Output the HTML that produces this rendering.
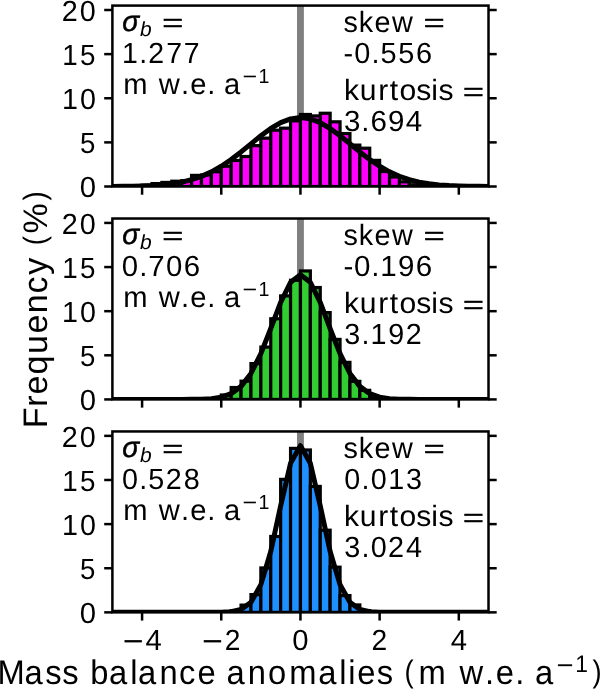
<!DOCTYPE html>
<html><head><meta charset="utf-8"><style>
html,body{margin:0;padding:0;background:#fff;}
body{width:600px;height:689px;overflow:hidden;}
svg{display:block;will-change:transform;}
text{font-family:"Liberation Sans",sans-serif;fill:#000;font-kerning:none;text-rendering:geometricPrecision;}
</style></head><body>
<svg width="600" height="689" viewBox="0 0 600 689">
<rect width="600" height="689" fill="#fff"/>

<clipPath id="c0"><rect x="112.40" y="5.59" width="376.11" height="180.91"/></clipPath>
<g clip-path="url(#c0)">
<line x1="300.45" y1="5.59" x2="300.45" y2="186.50" stroke="#808080" stroke-width="6.9"/>
<rect x="142.09" y="185.18" width="9.90" height="1.32" fill="#ff00ff" stroke="#000" stroke-width="3.2"/>
<rect x="151.99" y="183.59" width="9.90" height="2.91" fill="#ff00ff" stroke="#000" stroke-width="3.2"/>
<rect x="161.88" y="182.44" width="9.90" height="4.06" fill="#ff00ff" stroke="#000" stroke-width="3.2"/>
<rect x="171.78" y="181.21" width="9.90" height="5.29" fill="#ff00ff" stroke="#000" stroke-width="3.2"/>
<rect x="181.68" y="180.76" width="9.90" height="5.74" fill="#ff00ff" stroke="#000" stroke-width="3.2"/>
<rect x="191.58" y="175.38" width="9.90" height="11.12" fill="#ff00ff" stroke="#000" stroke-width="3.2"/>
<rect x="201.47" y="175.03" width="9.90" height="11.47" fill="#ff00ff" stroke="#000" stroke-width="3.2"/>
<rect x="211.37" y="171.76" width="9.90" height="14.74" fill="#ff00ff" stroke="#000" stroke-width="3.2"/>
<rect x="221.27" y="166.20" width="9.90" height="20.30" fill="#ff00ff" stroke="#000" stroke-width="3.2"/>
<rect x="231.17" y="160.47" width="9.90" height="26.03" fill="#ff00ff" stroke="#000" stroke-width="3.2"/>
<rect x="241.06" y="156.50" width="9.90" height="30.00" fill="#ff00ff" stroke="#000" stroke-width="3.2"/>
<rect x="250.96" y="145.64" width="9.90" height="40.86" fill="#ff00ff" stroke="#000" stroke-width="3.2"/>
<rect x="260.86" y="138.14" width="9.90" height="48.36" fill="#ff00ff" stroke="#000" stroke-width="3.2"/>
<rect x="270.76" y="130.20" width="9.90" height="56.30" fill="#ff00ff" stroke="#000" stroke-width="3.2"/>
<rect x="280.65" y="128.17" width="9.90" height="58.33" fill="#ff00ff" stroke="#000" stroke-width="3.2"/>
<rect x="290.55" y="120.84" width="9.90" height="65.66" fill="#ff00ff" stroke="#000" stroke-width="3.2"/>
<rect x="300.45" y="114.49" width="9.90" height="72.01" fill="#ff00ff" stroke="#000" stroke-width="3.2"/>
<rect x="310.35" y="115.90" width="9.90" height="70.60" fill="#ff00ff" stroke="#000" stroke-width="3.2"/>
<rect x="320.25" y="113.25" width="9.90" height="73.25" fill="#ff00ff" stroke="#000" stroke-width="3.2"/>
<rect x="330.14" y="121.81" width="9.90" height="64.69" fill="#ff00ff" stroke="#000" stroke-width="3.2"/>
<rect x="340.04" y="133.55" width="9.90" height="52.95" fill="#ff00ff" stroke="#000" stroke-width="3.2"/>
<rect x="349.94" y="145.11" width="9.90" height="41.39" fill="#ff00ff" stroke="#000" stroke-width="3.2"/>
<rect x="359.83" y="148.20" width="9.90" height="38.30" fill="#ff00ff" stroke="#000" stroke-width="3.2"/>
<rect x="369.73" y="160.38" width="9.90" height="26.12" fill="#ff00ff" stroke="#000" stroke-width="3.2"/>
<rect x="379.63" y="171.50" width="9.90" height="15.00" fill="#ff00ff" stroke="#000" stroke-width="3.2"/>
<rect x="389.53" y="176.97" width="9.90" height="9.53" fill="#ff00ff" stroke="#000" stroke-width="3.2"/>
<rect x="399.43" y="181.82" width="9.90" height="4.68" fill="#ff00ff" stroke="#000" stroke-width="3.2"/>
<rect x="409.32" y="184.74" width="9.90" height="1.76" fill="#ff00ff" stroke="#000" stroke-width="3.2"/>
<rect x="419.22" y="185.62" width="9.90" height="0.88" fill="#ff00ff" stroke="#000" stroke-width="3.2"/>
<polyline points="102.50,186.47 112.40,186.43 122.29,186.36 132.19,186.23 142.09,185.99 151.99,185.58 161.88,184.89 171.78,183.80 181.68,182.14 191.58,179.72 201.47,176.36 211.37,171.90 221.27,166.28 231.17,159.55 241.06,151.92 250.96,143.81 260.86,135.78 270.76,128.49 280.65,122.66 290.55,118.88 300.45,117.58 310.35,118.88 320.25,122.66 330.14,128.49 340.04,135.78 349.94,143.81 359.83,151.92 369.73,159.55 379.63,166.28 389.53,171.90 399.43,176.36 409.32,179.72 419.22,182.14 429.12,183.80 439.01,184.89 448.91,185.58 458.81,185.99 468.71,186.23 478.61,186.36 488.50,186.43 498.40,186.47" fill="none" stroke="#000" stroke-width="5.0" stroke-linejoin="round"/>
</g>
<rect x="112.40" y="5.59" width="376.11" height="180.91" fill="none" stroke="#000" stroke-width="2.5"/>
<line x1="104.20" y1="186.50" x2="112.40" y2="186.50" stroke="#000" stroke-width="2.5"/>
<line x1="488.50" y1="186.50" x2="496.70" y2="186.50" stroke="#000" stroke-width="2.5"/>
<text transform="translate(79.03 197.25) scale(1.0029 1)" x="0.69" y="0" font-size="29.20" xml:space="preserve">0</text>
<line x1="104.20" y1="142.38" x2="112.40" y2="142.38" stroke="#000" stroke-width="2.5"/>
<line x1="488.50" y1="142.38" x2="496.70" y2="142.38" stroke="#000" stroke-width="2.5"/>
<text transform="translate(79.03 153.12) scale(0.9465 1)" x="1.10" y="0" font-size="29.20" xml:space="preserve">5</text>
<line x1="104.20" y1="98.25" x2="112.40" y2="98.25" stroke="#000" stroke-width="2.5"/>
<line x1="488.50" y1="98.25" x2="496.70" y2="98.25" stroke="#000" stroke-width="2.5"/>
<text transform="translate(61.35 109.00) scale(0.9815 1)" x="0.73 18.88" y="0" font-size="29.20" xml:space="preserve">10</text>
<line x1="104.20" y1="54.12" x2="112.40" y2="54.12" stroke="#000" stroke-width="2.5"/>
<line x1="488.50" y1="54.12" x2="496.70" y2="54.12" stroke="#000" stroke-width="2.5"/>
<text transform="translate(61.35 64.88) scale(0.9519 1)" x="1.02 19.61" y="0" font-size="29.20" xml:space="preserve">15</text>
<line x1="104.20" y1="10.00" x2="112.40" y2="10.00" stroke="#000" stroke-width="2.5"/>
<line x1="488.50" y1="10.00" x2="496.70" y2="10.00" stroke="#000" stroke-width="2.5"/>
<text transform="translate(61.35 20.75) scale(0.9852 1)" x="0.47 18.78" y="0" font-size="29.20" xml:space="preserve">20</text>
<line x1="142.09" y1="186.50" x2="142.09" y2="194.70" stroke="#000" stroke-width="2.5"/>
<line x1="221.27" y1="186.50" x2="221.27" y2="194.70" stroke="#000" stroke-width="2.5"/>
<line x1="300.45" y1="186.50" x2="300.45" y2="194.70" stroke="#000" stroke-width="2.5"/>
<line x1="379.63" y1="186.50" x2="379.63" y2="194.70" stroke="#000" stroke-width="2.5"/>
<line x1="458.81" y1="186.50" x2="458.81" y2="194.70" stroke="#000" stroke-width="2.5"/>
<text transform="translate(122.27 30.97) scale(0.9629 0.9833)" font-size="29.20" font-style="italic" stroke="#000" stroke-width="0.5">σ</text>
<text transform="translate(139.70 35.80) scale(1.0250 1)" x="0.40" y="0" font-size="20.44" font-style="italic" xml:space="preserve">b</text>
<text transform="translate(162.35 30.71) scale(1.2258 0.8332)" font-size="29.20" stroke="#000" stroke-width="0.6">=</text>
<text transform="translate(121.15 62.90) scale(0.9747 1)" x="0.80 18.59 27.76 46.21 64.34" y="0" font-size="29.20" xml:space="preserve">1.277</text>
<text transform="translate(121.66 94.00) scale(0.9977 1)" x="1.57 27.32 37.15 59.56 68.65 85.73 94.26 102.60" y="0" font-size="29.20" xml:space="preserve">m w.e. a</text>
<text transform="translate(241.69 82.80) scale(0.9578 1)" x="17.68" y="0" font-size="20.44" xml:space="preserve">1</text>
<text transform="translate(242.51 84.23) scale(1.2258 1.1078)" font-size="20.44">−</text>
<text transform="translate(343.35 31.80) scale(0.9876 1)" x="0.22 15.73 31.53 49.20 71.26" y="0" font-size="29.20" xml:space="preserve">skew </text>
<text transform="translate(423.75 31.11) scale(1.2258 0.8332)" font-size="29.20" stroke="#000" stroke-width="0.6">=</text>
<text transform="translate(343.35 62.90) scale(0.9898 1)" x="0.20 10.93 28.38 37.60 55.46 73.43" y="0" font-size="29.20" xml:space="preserve">-0.556</text>
<text transform="translate(343.35 100.40) scale(1.0318 1)" x="0.67 15.95 33.82 44.87 54.41 70.66 85.29 92.17 106.29" y="0" font-size="29.20" xml:space="preserve">kurtosis </text>
<text transform="translate(463.04 99.71) scale(1.2258 0.8332)" font-size="29.20" stroke="#000" stroke-width="0.6">=</text>
<text transform="translate(343.35 131.00) scale(1.0105 1)" x="0.66 17.79 26.85 44.25 61.83" y="0" font-size="29.20" xml:space="preserve">3.694</text>
<clipPath id="c1"><rect x="112.40" y="218.52" width="376.11" height="180.91"/></clipPath>
<g clip-path="url(#c1)">
<line x1="300.45" y1="218.52" x2="300.45" y2="399.43" stroke="#808080" stroke-width="6.9"/>
<rect x="221.27" y="395.02" width="9.90" height="4.41" fill="#32cd32" stroke="#000" stroke-width="3.2"/>
<rect x="231.17" y="387.52" width="9.90" height="11.91" fill="#32cd32" stroke="#000" stroke-width="3.2"/>
<rect x="241.06" y="381.16" width="9.90" height="18.27" fill="#32cd32" stroke="#000" stroke-width="3.2"/>
<rect x="250.96" y="363.60" width="9.90" height="35.83" fill="#32cd32" stroke="#000" stroke-width="3.2"/>
<rect x="260.86" y="347.10" width="9.90" height="52.33" fill="#32cd32" stroke="#000" stroke-width="3.2"/>
<rect x="270.76" y="318.77" width="9.90" height="80.66" fill="#32cd32" stroke="#000" stroke-width="3.2"/>
<rect x="280.65" y="295.91" width="9.90" height="103.52" fill="#32cd32" stroke="#000" stroke-width="3.2"/>
<rect x="290.55" y="280.29" width="9.90" height="119.14" fill="#32cd32" stroke="#000" stroke-width="3.2"/>
<rect x="300.45" y="270.94" width="9.90" height="128.49" fill="#32cd32" stroke="#000" stroke-width="3.2"/>
<rect x="310.35" y="287.53" width="9.90" height="111.90" fill="#32cd32" stroke="#000" stroke-width="3.2"/>
<rect x="320.25" y="312.59" width="9.90" height="86.84" fill="#32cd32" stroke="#000" stroke-width="3.2"/>
<rect x="330.14" y="339.42" width="9.90" height="60.01" fill="#32cd32" stroke="#000" stroke-width="3.2"/>
<rect x="340.04" y="362.37" width="9.90" height="37.06" fill="#32cd32" stroke="#000" stroke-width="3.2"/>
<rect x="349.94" y="381.34" width="9.90" height="18.09" fill="#32cd32" stroke="#000" stroke-width="3.2"/>
<rect x="359.83" y="390.34" width="9.90" height="9.09" fill="#32cd32" stroke="#000" stroke-width="3.2"/>
<rect x="369.73" y="396.78" width="9.90" height="2.65" fill="#32cd32" stroke="#000" stroke-width="3.2"/>
<polyline points="102.50,399.43 112.40,399.43 122.29,399.43 132.19,399.43 142.09,399.43 151.99,399.43 161.88,399.43 171.78,399.43 181.68,399.42 191.58,399.37 201.47,399.19 211.37,398.65 221.27,397.18 231.17,393.65 241.06,386.38 250.96,373.43 260.86,353.71 270.76,328.52 280.65,302.41 290.55,282.34 300.45,274.76 310.35,282.34 320.25,302.41 330.14,328.52 340.04,353.71 349.94,373.43 359.83,386.38 369.73,393.65 379.63,397.18 389.53,398.65 399.43,399.19 409.32,399.37 419.22,399.42 429.12,399.43 439.01,399.43 448.91,399.43 458.81,399.43 468.71,399.43 478.61,399.43 488.50,399.43 498.40,399.43" fill="none" stroke="#000" stroke-width="5.0" stroke-linejoin="round"/>
</g>
<rect x="112.40" y="218.52" width="376.11" height="180.91" fill="none" stroke="#000" stroke-width="2.5"/>
<line x1="104.20" y1="399.43" x2="112.40" y2="399.43" stroke="#000" stroke-width="2.5"/>
<line x1="488.50" y1="399.43" x2="496.70" y2="399.43" stroke="#000" stroke-width="2.5"/>
<text transform="translate(79.03 410.18) scale(1.0029 1)" x="0.69" y="0" font-size="29.20" xml:space="preserve">0</text>
<line x1="104.20" y1="355.31" x2="112.40" y2="355.31" stroke="#000" stroke-width="2.5"/>
<line x1="488.50" y1="355.31" x2="496.70" y2="355.31" stroke="#000" stroke-width="2.5"/>
<text transform="translate(79.03 366.06) scale(0.9465 1)" x="1.10" y="0" font-size="29.20" xml:space="preserve">5</text>
<line x1="104.20" y1="311.18" x2="112.40" y2="311.18" stroke="#000" stroke-width="2.5"/>
<line x1="488.50" y1="311.18" x2="496.70" y2="311.18" stroke="#000" stroke-width="2.5"/>
<text transform="translate(61.35 321.93) scale(0.9815 1)" x="0.73 18.88" y="0" font-size="29.20" xml:space="preserve">10</text>
<line x1="104.20" y1="267.06" x2="112.40" y2="267.06" stroke="#000" stroke-width="2.5"/>
<line x1="488.50" y1="267.06" x2="496.70" y2="267.06" stroke="#000" stroke-width="2.5"/>
<text transform="translate(61.35 277.81) scale(0.9519 1)" x="1.02 19.61" y="0" font-size="29.20" xml:space="preserve">15</text>
<line x1="104.20" y1="222.93" x2="112.40" y2="222.93" stroke="#000" stroke-width="2.5"/>
<line x1="488.50" y1="222.93" x2="496.70" y2="222.93" stroke="#000" stroke-width="2.5"/>
<text transform="translate(61.35 233.68) scale(0.9852 1)" x="0.47 18.78" y="0" font-size="29.20" xml:space="preserve">20</text>
<line x1="142.09" y1="399.43" x2="142.09" y2="407.63" stroke="#000" stroke-width="2.5"/>
<line x1="221.27" y1="399.43" x2="221.27" y2="407.63" stroke="#000" stroke-width="2.5"/>
<line x1="300.45" y1="399.43" x2="300.45" y2="407.63" stroke="#000" stroke-width="2.5"/>
<line x1="379.63" y1="399.43" x2="379.63" y2="407.63" stroke="#000" stroke-width="2.5"/>
<line x1="458.81" y1="399.43" x2="458.81" y2="407.63" stroke="#000" stroke-width="2.5"/>
<text transform="translate(122.27 243.90) scale(0.9629 0.9833)" font-size="29.20" font-style="italic" stroke="#000" stroke-width="0.5">σ</text>
<text transform="translate(139.70 248.73) scale(1.0250 1)" x="0.40" y="0" font-size="20.44" font-style="italic" xml:space="preserve">b</text>
<text transform="translate(162.35 243.64) scale(1.2258 0.8332)" font-size="29.20" stroke="#000" stroke-width="0.6">=</text>
<text transform="translate(121.15 275.83) scale(1.0073 1)" x="0.65 17.86 26.90 44.50 62.05" y="0" font-size="29.20" xml:space="preserve">0.706</text>
<text transform="translate(121.66 306.93) scale(0.9977 1)" x="1.57 27.32 37.15 59.56 68.65 85.73 94.26 102.60" y="0" font-size="29.20" xml:space="preserve">m w.e. a</text>
<text transform="translate(241.69 295.73) scale(0.9578 1)" x="17.68" y="0" font-size="20.44" xml:space="preserve">1</text>
<text transform="translate(242.51 297.16) scale(1.2258 1.1078)" font-size="20.44">−</text>
<text transform="translate(343.35 244.73) scale(0.9876 1)" x="0.22 15.73 31.53 49.20 71.26" y="0" font-size="29.20" xml:space="preserve">skew </text>
<text transform="translate(423.75 244.04) scale(1.2258 0.8332)" font-size="29.20" stroke="#000" stroke-width="0.6">=</text>
<text transform="translate(343.35 275.83) scale(1.0121 1)" x="0.09 10.51 27.66 36.55 54.07 71.62" y="0" font-size="29.20" xml:space="preserve">-0.196</text>
<text transform="translate(343.35 313.33) scale(1.0318 1)" x="0.67 15.95 33.82 44.87 54.41 70.66 85.29 92.17 106.29" y="0" font-size="29.20" xml:space="preserve">kurtosis </text>
<text transform="translate(463.04 312.64) scale(1.2258 0.8332)" font-size="29.20" stroke="#000" stroke-width="0.6">=</text>
<text transform="translate(343.35 343.93) scale(0.9836 1)" x="0.90 18.39 27.66 45.69 63.37" y="0" font-size="29.20" xml:space="preserve">3.192</text>
<clipPath id="c2"><rect x="112.40" y="431.45" width="376.11" height="180.91"/></clipPath>
<g clip-path="url(#c2)">
<line x1="300.45" y1="431.45" x2="300.45" y2="612.36" stroke="#808080" stroke-width="6.9"/>
<rect x="231.17" y="610.60" width="9.90" height="1.76" fill="#1e90ff" stroke="#000" stroke-width="3.2"/>
<rect x="241.06" y="605.12" width="9.90" height="7.24" fill="#1e90ff" stroke="#000" stroke-width="3.2"/>
<rect x="250.96" y="594.62" width="9.90" height="17.74" fill="#1e90ff" stroke="#000" stroke-width="3.2"/>
<rect x="260.86" y="567.97" width="9.90" height="44.39" fill="#1e90ff" stroke="#000" stroke-width="3.2"/>
<rect x="270.76" y="536.47" width="9.90" height="75.89" fill="#1e90ff" stroke="#000" stroke-width="3.2"/>
<rect x="280.65" y="479.37" width="9.90" height="132.99" fill="#1e90ff" stroke="#000" stroke-width="3.2"/>
<rect x="290.55" y="448.39" width="9.90" height="163.97" fill="#1e90ff" stroke="#000" stroke-width="3.2"/>
<rect x="300.45" y="449.98" width="9.90" height="162.38" fill="#1e90ff" stroke="#000" stroke-width="3.2"/>
<rect x="310.35" y="486.43" width="9.90" height="125.93" fill="#1e90ff" stroke="#000" stroke-width="3.2"/>
<rect x="320.25" y="530.20" width="9.90" height="82.16" fill="#1e90ff" stroke="#000" stroke-width="3.2"/>
<rect x="330.14" y="567.18" width="9.90" height="45.18" fill="#1e90ff" stroke="#000" stroke-width="3.2"/>
<rect x="340.04" y="595.59" width="9.90" height="16.77" fill="#1e90ff" stroke="#000" stroke-width="3.2"/>
<rect x="349.94" y="604.95" width="9.90" height="7.41" fill="#1e90ff" stroke="#000" stroke-width="3.2"/>
<rect x="359.83" y="610.60" width="9.90" height="1.76" fill="#1e90ff" stroke="#000" stroke-width="3.2"/>
<polyline points="102.50,612.36 112.40,612.36 122.29,612.36 132.19,612.36 142.09,612.36 151.99,612.36 161.88,612.36 171.78,612.36 181.68,612.36 191.58,612.36 201.47,612.36 211.37,612.34 221.27,612.23 231.17,611.67 241.06,609.41 250.96,602.25 260.86,584.63 270.76,551.58 280.65,505.90 290.55,463.34 300.45,445.66 310.35,463.34 320.25,505.90 330.14,551.58 340.04,584.63 349.94,602.25 359.83,609.41 369.73,611.67 379.63,612.23 389.53,612.34 399.43,612.36 409.32,612.36 419.22,612.36 429.12,612.36 439.01,612.36 448.91,612.36 458.81,612.36 468.71,612.36 478.61,612.36 488.50,612.36 498.40,612.36" fill="none" stroke="#000" stroke-width="5.0" stroke-linejoin="round"/>
</g>
<rect x="112.40" y="431.45" width="376.11" height="180.91" fill="none" stroke="#000" stroke-width="2.5"/>
<line x1="104.20" y1="612.36" x2="112.40" y2="612.36" stroke="#000" stroke-width="2.5"/>
<line x1="488.50" y1="612.36" x2="496.70" y2="612.36" stroke="#000" stroke-width="2.5"/>
<text transform="translate(79.03 623.11) scale(1.0029 1)" x="0.69" y="0" font-size="29.20" xml:space="preserve">0</text>
<line x1="104.20" y1="568.24" x2="112.40" y2="568.24" stroke="#000" stroke-width="2.5"/>
<line x1="488.50" y1="568.24" x2="496.70" y2="568.24" stroke="#000" stroke-width="2.5"/>
<text transform="translate(79.03 578.99) scale(0.9465 1)" x="1.10" y="0" font-size="29.20" xml:space="preserve">5</text>
<line x1="104.20" y1="524.11" x2="112.40" y2="524.11" stroke="#000" stroke-width="2.5"/>
<line x1="488.50" y1="524.11" x2="496.70" y2="524.11" stroke="#000" stroke-width="2.5"/>
<text transform="translate(61.35 534.86) scale(0.9815 1)" x="0.73 18.88" y="0" font-size="29.20" xml:space="preserve">10</text>
<line x1="104.20" y1="479.99" x2="112.40" y2="479.99" stroke="#000" stroke-width="2.5"/>
<line x1="488.50" y1="479.99" x2="496.70" y2="479.99" stroke="#000" stroke-width="2.5"/>
<text transform="translate(61.35 490.74) scale(0.9519 1)" x="1.02 19.61" y="0" font-size="29.20" xml:space="preserve">15</text>
<line x1="104.20" y1="435.86" x2="112.40" y2="435.86" stroke="#000" stroke-width="2.5"/>
<line x1="488.50" y1="435.86" x2="496.70" y2="435.86" stroke="#000" stroke-width="2.5"/>
<text transform="translate(61.35 446.61) scale(0.9852 1)" x="0.47 18.78" y="0" font-size="29.20" xml:space="preserve">20</text>
<line x1="142.09" y1="612.36" x2="142.09" y2="620.56" stroke="#000" stroke-width="2.5"/>
<line x1="221.27" y1="612.36" x2="221.27" y2="620.56" stroke="#000" stroke-width="2.5"/>
<line x1="300.45" y1="612.36" x2="300.45" y2="620.56" stroke="#000" stroke-width="2.5"/>
<line x1="379.63" y1="612.36" x2="379.63" y2="620.56" stroke="#000" stroke-width="2.5"/>
<line x1="458.81" y1="612.36" x2="458.81" y2="620.56" stroke="#000" stroke-width="2.5"/>
<text transform="translate(122.27 456.83) scale(0.9629 0.9833)" font-size="29.20" font-style="italic" stroke="#000" stroke-width="0.5">σ</text>
<text transform="translate(139.70 461.66) scale(1.0250 1)" x="0.40" y="0" font-size="20.44" font-style="italic" xml:space="preserve">b</text>
<text transform="translate(162.35 456.57) scale(1.2258 0.8332)" font-size="29.20" stroke="#000" stroke-width="0.6">=</text>
<text transform="translate(121.15 488.76) scale(0.9848 1)" x="0.85 18.36 27.65 45.34 63.65" y="0" font-size="29.20" xml:space="preserve">0.528</text>
<text transform="translate(121.66 519.86) scale(0.9977 1)" x="1.57 27.32 37.15 59.56 68.65 85.73 94.26 102.60" y="0" font-size="29.20" xml:space="preserve">m w.e. a</text>
<text transform="translate(241.69 508.66) scale(0.9578 1)" x="17.68" y="0" font-size="20.44" xml:space="preserve">1</text>
<text transform="translate(242.51 510.09) scale(1.2258 1.1078)" font-size="20.44">−</text>
<text transform="translate(343.35 457.66) scale(0.9876 1)" x="0.22 15.73 31.53 49.20 71.26" y="0" font-size="29.20" xml:space="preserve">skew </text>
<text transform="translate(423.75 456.97) scale(1.2258 0.8332)" font-size="29.20" stroke="#000" stroke-width="0.6">=</text>
<text transform="translate(343.35 488.76) scale(0.9846 1)" x="0.85 18.36 27.77 45.57 63.71" y="0" font-size="29.20" xml:space="preserve">0.013</text>
<text transform="translate(343.35 526.26) scale(1.0318 1)" x="0.67 15.95 33.82 44.87 54.41 70.66 85.29 92.17 106.29" y="0" font-size="29.20" xml:space="preserve">kurtosis </text>
<text transform="translate(463.04 525.57) scale(1.2258 0.8332)" font-size="29.20" stroke="#000" stroke-width="0.6">=</text>
<text transform="translate(343.35 556.86) scale(0.9866 1)" x="0.87 18.32 27.70 45.24 63.52" y="0" font-size="29.20" xml:space="preserve">3.024</text>
<text transform="translate(121.61 649.81) scale(1.0030 1)" x="23.89" y="0" font-size="29.20" xml:space="preserve">4</text>
<text transform="translate(122.79 651.86) scale(1.2258 1.1078)" font-size="29.20">−</text>
<text transform="translate(200.79 649.81) scale(0.9667 1)" x="24.72" y="0" font-size="29.20" xml:space="preserve">2</text>
<text transform="translate(201.97 651.86) scale(1.2258 1.1078)" font-size="29.20">−</text>
<text transform="translate(291.61 649.81) scale(1.0029 1)" x="0.69" y="0" font-size="29.20" xml:space="preserve">0</text>
<text transform="translate(370.79 649.81) scale(0.9667 1)" x="0.64" y="0" font-size="29.20" xml:space="preserve">2</text>
<text transform="translate(449.97 649.81) scale(1.0030 1)" x="0.68" y="0" font-size="29.20" xml:space="preserve">4</text>
<text transform="translate(-2.98 684.30) scale(0.9605 1)" x="0.38 28.73 50.28 67.86 84.92 97.11 116.68 138.63 146.73 169.07 189.52 208.67 228.45 238.80 261.14 282.08 304.20 334.35 356.30 365.69 375.11 395.40 412.47 438.69 469.21 481.41 508.13 519.22 539.61 549.72 560.07" y="0" font-size="34.06" xml:space="preserve">Mass balance anomalies m w.e. a</text>
<text transform="translate(404.58 682.16) scale(0.8042 0.9095)" font-size="34.06">(</text>
<text transform="translate(555.60 672.30) scale(0.9578 1)" x="20.63" y="0" font-size="23.84" xml:space="preserve">1</text>
<text transform="translate(556.56 673.97) scale(1.2258 1.1078)" font-size="23.84">−</text>
<text transform="translate(592.54 682.16) scale(0.8042 0.9095)" font-size="34.06">)</text>
<g transform="translate(46.8 427.08) rotate(-90)"><text transform="translate(0.00 0.00) scale(0.9999 1)" x="-1.15 20.25 32.52 52.51 73.19 93.57 113.81 133.49 152.36 170.47 193.67" y="0" font-size="34.06" xml:space="preserve">Frequency %</text>
<text transform="translate(181.83 -2.14) scale(0.8042 0.9095)" font-size="34.06">(</text>
<text transform="translate(226.61 -2.14) scale(0.8042 0.9095)" font-size="34.06">)</text></g>
</svg></body></html>
